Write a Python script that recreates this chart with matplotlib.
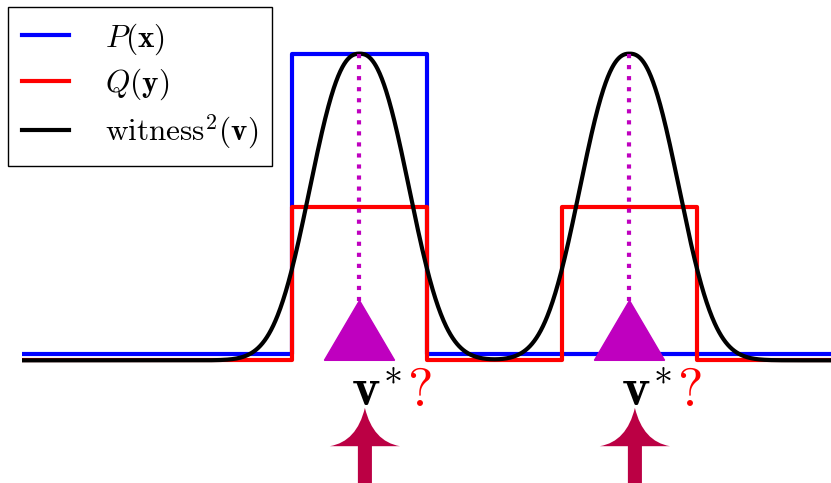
import numpy as np
import matplotlib
matplotlib.use("Agg")
import matplotlib.pyplot as plt
from matplotlib.path import Path
from matplotlib.patches import PathPatch

plt.rcParams["mathtext.fontset"] = "cm"
plt.rcParams["font.family"] = "DejaVu Serif"

# step densities: breakpoints and heights
P_X = [-2, 0, 0, 1, 1, 4]
P_Y = [0.04, 0.04, 2.0, 2.0, 0.04, 0.04]
Q_X = [-2, 0, 0, 1, 1, 2, 2, 3, 3, 4]
Q_Y = [0, 0, 1, 1, 0, 0, 1, 1, 0, 0]

# squared witness: two bumps (centre, height, half-width scale, shape exponent)
PEAK_CENTERS = [0.5, 2.5]
PEAK_HEIGHT = 2.0
PEAK_SCALE = 0.462
PEAK_SHAPE = 2.4

MAGENTA = "#BF00BF"
CRIMSON = "#BB0044"

fig = plt.figure(figsize=(8.31, 4.83), dpi=100)
ax = fig.add_axes([22 / 831, 0, 810 / 831, 1])
ax.set_xlim(-2, 4)
ax.set_ylim(-0.80, 2.35)
ax.axis("off")

xs = np.linspace(-2, 4, 1500)
witness = sum(PEAK_HEIGHT * np.exp(-np.abs((xs - c) / PEAK_SCALE) ** PEAK_SHAPE)
              for c in PEAK_CENTERS)

ax.plot(P_X, P_Y, color="blue", lw=3, label=r"$P(\mathbf{x})$", zorder=2)
ax.plot(Q_X, Q_Y, color="red", lw=3, label=r"$Q(\mathbf{y})$", zorder=3)
ax.plot(xs, witness, color="black", lw=3,
        label=r"$\mathrm{witness}^2(\mathbf{v})$", zorder=4)

tri_h, tri_w = 0.39, 0.26
for c in PEAK_CENTERS:
    # dotted drop from the peak to the triangle
    ax.plot([c, c], [PEAK_HEIGHT, tri_h], color=MAGENTA, lw=3,
            linestyle=":", dash_capstyle="butt", zorder=5)
    ax.fill([c - tri_w, c, c + tri_w], [0, tri_h, 0], color=MAGENTA, zorder=6)

    ax.text(c - 0.065, -0.30, r"$\mathbf{v}^{\!*}$", fontsize=39,
            ha="left", va="baseline", zorder=7)
    ax.text(c + 0.35, -0.30, r"$?$", fontsize=39, color="red",
            ha="left", va="baseline", zorder=7)

    # upward arrow with concave head
    ax_c = c + 0.04
    tip, base, hw, sw, bot = -0.31, -0.56, 0.26, 0.052, -0.95
    verts = [
        (ax_c, tip),
        (ax_c + 0.06, base + 0.03), (ax_c + hw, base),
        (ax_c + sw, base),
        (ax_c + sw, bot),
        (ax_c - sw, bot),
        (ax_c - sw, base),
        (ax_c - hw, base),
        (ax_c - 0.06, base + 0.03), (ax_c, tip),
        (ax_c, tip),
    ]
    codes = [Path.MOVETO,
             Path.CURVE3, Path.CURVE3,
             Path.LINETO, Path.LINETO, Path.LINETO, Path.LINETO, Path.LINETO,
             Path.CURVE3, Path.CURVE3,
             Path.CLOSEPOLY]
    ax.add_patch(PathPatch(Path(verts, codes), facecolor=CRIMSON,
                           edgecolor="none", zorder=7, clip_on=False))

leg = ax.legend(loc="upper left", bbox_to_anchor=(8 / 831, 1 - 7 / 483),
                bbox_transform=fig.transFigure, borderaxespad=0,
                fontsize=22.5, handlelength=1.5, handletextpad=1.15,
                borderpad=0.45, labelspacing=0.33, fancybox=False,
                framealpha=1, edgecolor="black")
leg.get_frame().set_linewidth(1.0)
leg.set_zorder(10)

fig.savefig("out.png", dpi=100)
